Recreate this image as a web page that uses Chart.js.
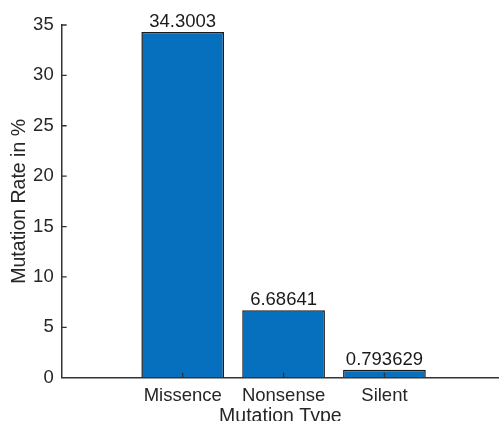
<!DOCTYPE html>
<html>
<head>
<meta charset="utf-8">
<script src="https://cdn.jsdelivr.net/npm/chart.js@4"></script>
<style>
  html, body { margin: 0; padding: 0; background: #fff; }
  #wrap { width: 499px; height: 421px; }
</style>
</head>
<body>
<div id="wrap"><canvas id="mutChart"></canvas></div>
<script>
// data
var categories = ['Missence', 'Nonsense', 'Silent'];
var rates = [34.3003, 6.68641, 0.793629];
var yTicks = [0, 5, 10, 15, 20, 25, 30, 35];

var axisColor = '#333333';
var textColor = '#262626';
var fontFam = '"Liberation Sans", Arial, Helvetica, sans-serif';

// bars sit at x = 1, 2, 3 like matlab
var points = rates.map(function(v, i) { return { x: i + 1, y: v }; });

// inward tick marks + value labels on top of bars
var extras = {
    id: 'extras',
    afterDatasetsDraw: function(chart) {
        var ctx = chart.ctx;
        var xs = chart.scales.x, ys = chart.scales.y;
        ctx.save();
        ctx.strokeStyle = axisColor;
        ctx.lineWidth = 1.3;
        ctx.beginPath();
        yTicks.forEach(function(t) {
            if (t === 0) return;
            var py = ys.getPixelForValue(t);
            ctx.moveTo(xs.left, py);
            ctx.lineTo(xs.left + 5, py);
        });
        categories.forEach(function(c, i) {
            var px = xs.getPixelForValue(i + 1);
            ctx.moveTo(px, ys.bottom);
            ctx.lineTo(px, ys.bottom - 5);
        });
        ctx.stroke();

        var meta = chart.getDatasetMeta(0);
        ctx.fillStyle = '#1a1a1a';
        ctx.font = '18.5px ' + fontFam;
        ctx.textAlign = 'center';
        ctx.textBaseline = 'alphabetic';
        meta.data.forEach(function(bar, i) {
            ctx.fillText(String(rates[i]), bar.x, bar.y - 5);
        });
        ctx.restore();
    }
};

var ctx1 = document.getElementById('mutChart').getContext('2d');
var myChart1 = new Chart(ctx1, {
    type: 'bar',
    data: {
        datasets: [{
            label: 'Mutation Rate',
            data: points,
            backgroundColor: '#0670bf',
            borderColor: '#1a1a1a',
            borderWidth: 1.5,
            barPercentage: 0.82,
            categoryPercentage: 1
        }]
    },
    options: {
        responsive: true,
        maintainAspectRatio: false,
        animation: false,
        layout: { padding: { top: 25, left: 0, right: 0, bottom: 0 } },
        plugins: {
            legend: { display: false },
            tooltip: { enabled: false }
        },
        scales: {
            x: {
                type: 'linear',
                min: -0.2,
                max: 4.136,
                offset: false,
                afterBuildTicks: function(scale) {
                    scale.ticks = categories.map(function(c, i) { return { value: i + 1 }; });
                },
                afterFit: function(scale) { scale.height = 43.3; },
                grid: { display: true, drawOnChartArea: false, drawTicks: false },
                border: { display: true, color: axisColor, width: 1.5 },
                ticks: {
                    color: textColor,
                    font: { family: fontFam, size: 18.5 },
                    padding: 7,
                    maxRotation: 0,
                    autoSkip: false,
                    callback: function(v) { return categories[v - 1]; }
                },
                title: {
                    display: true,
                    text: 'Mutation Type',
                    color: textColor,
                    font: { family: fontFam, size: 19.5, lineHeight: 1 },
                    padding: { top: 0, bottom: -5 }
                }
            },
            y: {
                min: 0,
                max: 35,
                afterBuildTicks: function(scale) {
                    scale.ticks = yTicks.map(function(t) { return { value: t }; });
                },
                afterFit: function(scale) { scale.width = 61.7; },
                grid: { display: true, drawOnChartArea: false, drawTicks: false },
                border: { display: true, color: axisColor, width: 1.5 },
                ticks: {
                    color: textColor,
                    font: { family: fontFam, size: 18.5 },
                    padding: 8
                },
                title: {
                    display: true,
                    text: 'Mutation Rate in %',
                    color: textColor,
                    font: { family: fontFam, size: 19.5, lineHeight: 1 },
                    padding: { top: 9.5, bottom: 0 }
                }
            }
        }
    },
    plugins: [extras]
});
</script>
</body>
</html>
